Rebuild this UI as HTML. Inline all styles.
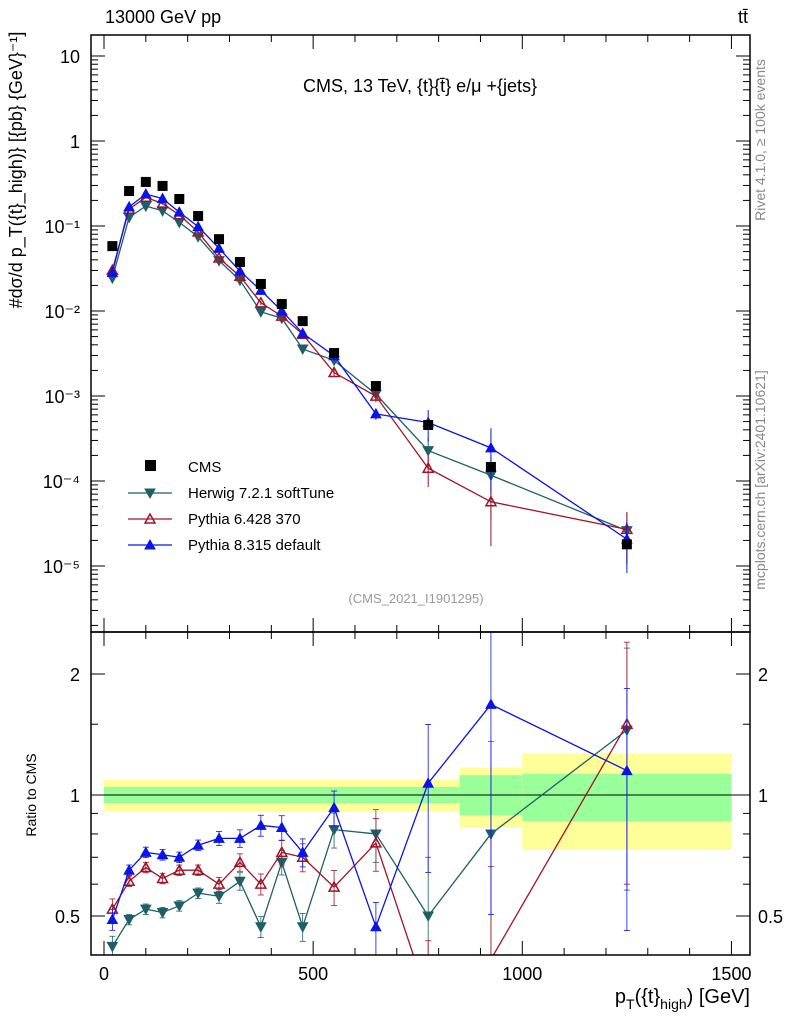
<!DOCTYPE html>
<html><head><meta charset="utf-8">
<style>
html,body{margin:0;padding:0;background:#fff;width:786px;height:1024px;overflow:hidden;}
svg{display:block;font-family:"Liberation Sans",sans-serif;}
</style></head>
<body>
<svg id="c" width="786" height="1024" viewBox="0 0 786 1024" xmlns="http://www.w3.org/2000/svg">
<text x="105" y="23" font-size="18">13000 GeV pp</text>
<text x="748" y="23" font-size="18" text-anchor="end">tt̄</text>
<text x="420" y="92" font-size="18" text-anchor="middle">CMS, 13 TeV, {t}{t̄} e/μ +{jets}</text>
<text x="416" y="603" font-size="13" fill="#999" text-anchor="middle">(CMS_2021_I1901295)</text>
<text transform="translate(765,140) rotate(-90)" font-size="14" fill="#888" text-anchor="middle">Rivet 4.1.0, ≥ 100k events</text>
<text transform="translate(765,480) rotate(-90)" font-size="14" fill="#888" text-anchor="middle">mcplots.cern.ch [arXiv:2401.10621]</text>
<text transform="translate(22,170) rotate(-90)" font-size="18" text-anchor="middle">#dσ/d p_T({t}_high)} [{pb} {GeV}⁻¹]</text>
<text transform="translate(36,795) rotate(-90)" font-size="14" text-anchor="middle">Ratio to CMS</text>
<text x="750" y="1003" font-size="20" text-anchor="end">p<tspan font-size="14" dy="6">T</tspan><tspan dy="-6">({t}</tspan><tspan font-size="14" dy="6">high</tspan><tspan dy="-6">) [GeV]</tspan></text>
<g id="g"></g>
</svg>
<script>
const xBins=[20,60,100,140,180,225,275,325,375,425,475,550,650,775,925,1250];
const cmsVals=[0.058,0.258,0.33,0.296,0.208,0.131,0.070,0.0377,0.0208,0.0121,0.0076,0.0032,0.00131,0.000456,0.000146,0.000018];
const herwigRatio=[0.42,0.49,0.52,0.51,0.53,0.57,0.56,0.61,0.47,0.68,0.47,0.82,0.80,0.50,0.80,1.45];
const pythia6Ratio=[0.52,0.61,0.66,0.62,0.65,0.65,0.60,0.68,0.60,0.72,0.70,0.59,0.76,0.31,0.39,1.50];
const pythia8Ratio=[0.49,0.65,0.72,0.71,0.70,0.75,0.78,0.78,0.84,0.83,0.72,0.93,0.47,1.07,1.68,1.15];
const mcRelErr=[0.06,0.03,0.03,0.03,0.03,0.03,0.04,0.05,0.06,0.07,0.08,0.1,0.15,0.4,0.7,0.6];
const bandEdges=[0,850,1000,1500];
const yellowLo=[0.91,0.83,0.73], yellowHi=[1.09,1.17,1.27];
const greenLo=[0.955,0.89,0.86], greenHi=[1.047,1.12,1.13];
const xTicks=[0,500,1000,1500];
const yTicks=[1e-5,1e-4,1e-3,1e-2,1e-1,1,10];
const yTickLabels=["10⁻⁵","10⁻⁴","10⁻³","10⁻²","10⁻¹","1","10"];
const rTicks=[0.5,1,2];

const L=91,R=750,T=35,M=632,B=955;
const clamp=(v,a,b)=>Math.max(a,Math.min(b,v));
const X=v=>104+v*0.4183;
const Y=v=>clamp(141-85*Math.log10(Math.max(v,1e-12)),T-10,M+10);
const YR=r=>clamp(795-121*Math.log2(Math.max(r,1e-6)),M-10,B+10);
const NS="http://www.w3.org/2000/svg";
const g=document.getElementById('g');
function el(t,a,p){const e=document.createElementNS(NS,t);for(const k in a)e.setAttribute(k,a[k]);(p||g).appendChild(e);return e;}
const clipM=el('clipPath',{id:'cm'});el('rect',{x:L,y:T,width:R-L,height:M-T},clipM);
const clipR=el('clipPath',{id:'cr'});el('rect',{x:L,y:M,width:R-L,height:B-M},clipR);
const gm=el('g',{'clip-path':'url(#cm)'});


const gr=el('g',{'clip-path':'url(#cr)'});



for(let i=0;i<3;i++){
 const y=el('rect',{x:X(bandEdges[i]),width:X(bandEdges[i+1])-X(bandEdges[i]),y:YR(yellowHi[i]),height:YR(yellowLo[i])-YR(yellowHi[i]),fill:'#ffff99'},gr);
 
 
 const gg=el('rect',{x:X(bandEdges[i]),width:X(bandEdges[i+1])-X(bandEdges[i]),y:YR(greenHi[i]),height:YR(greenLo[i])-YR(greenHi[i]),fill:'#99ff99'},gr);
 
 
}
el('line',{x1:L,x2:R,y1:YR(1),y2:YR(1),stroke:'#000'},gr);

const series=[
 {name:'herwig',ratio:herwigRatio,color:'#1f5f66',marker:'tdown',label:'Herwig 7.2.1 softTune'},
 {name:'pythia6',ratio:pythia6Ratio,color:'#a0142a',marker:'topen',label:'Pythia 6.428 370'},
 {name:'pythia8',ratio:pythia8Ratio,color:'#0a14e6',marker:'tup',label:'Pythia 8.315 default'}
];
function marker(type,x,y,c,p){
 let pts;
 if(type==='tdown')pts=`${x-5},${y-4} ${x+5},${y-4} ${x},${y+5}`;
 else pts=`${x-5},${y+4} ${x+5},${y+4} ${x},${y-5}`;
 return el('polygon',{points:pts,fill:type==='topen'?'none':c,stroke:c,'stroke-width':type==='topen'?1.5:1},p);
}
series.forEach(s=>{
 const mainVals=s.ratio.map((r,i)=>r*cmsVals[i]);
 let d='',dr='';
 xBins.forEach((x,i)=>{d+=(i?'L':'M')+X(x)+','+Y(mainVals[i]);});
 // ratio line: clip segments to panel analytically
 const rawYR=r=>795-121*Math.log2(r);
 for(let i=0;i<xBins.length-1;i++){
  let x1=X(xBins[i]),y1=rawYR(s.ratio[i]),x2=X(xBins[i+1]),y2=rawYR(s.ratio[i+1]);
  const lo=M,hi=B;
  if((y1>hi&&y2>hi)||(y1<lo&&y2<lo))continue;
  const cut=(xa,ya,xb,yb)=>{let yy=ya>hi?hi:(ya<lo?lo:ya);if(yy===ya)return[xa,ya];return[xa+(xb-xa)*(yy-ya)/(yb-ya),yy];};
  const p1=cut(x1,y1,x2,y2),p2=cut(x2,y2,x1,y1);
  dr+='M'+p1[0]+','+p1[1]+'L'+p2[0]+','+p2[1];
 }
 const l=el('path',{d:d,fill:'none',stroke:s.color,'stroke-width':1.3},gm);
 
 
 const lr=el('path',{d:dr,fill:'none',stroke:s.color,'stroke-width':1.3},gr);
 
 
 xBins.forEach((x,i)=>{
  const e=mcRelErr[i];
  el('line',{x1:X(x),x2:X(x),y1:Y(mainVals[i]*(1+e)),y2:Y(mainVals[i]*(1-e)),stroke:s.color},gm);
  el('line',{x1:X(x),x2:X(x),y1:YR(s.ratio[i]*(1+e)),y2:YR(s.ratio[i]*(1-e)),stroke:s.color,'stroke-width':0.8},gr);
  [1+e,1-e].forEach(f=>{const yy=YR(s.ratio[i]*f);if(yy<M||yy>B)return;el('line',{x1:X(x)-3,x2:X(x)+3,y1:yy,y2:yy,stroke:s.color,'stroke-width':0.8},gr);});
  const m=marker(s.marker,X(x),Y(mainVals[i]),s.color,gm);
  
  
  const yr=YR(s.ratio[i]);
  if(yr>M&&yr<B){
   const mr=marker(s.marker,X(x),yr,s.color,gr);
   
   
  }
 });
});
xBins.forEach((x,i)=>{
 const p=el('rect',{x:X(x)-5,y:Y(cmsVals[i])-5,width:10,height:10,fill:'#000'},gm);
 
 
});

el('rect',{x:L,y:T,width:R-L,height:M-T,fill:'none',stroke:'#000','stroke-width':1.5});
el('rect',{x:L,y:M,width:R-L,height:B-M,fill:'none',stroke:'#000','stroke-width':1.5});
for(let v=0;v<=1500;v+=100){
 const big=v%500===0,h=big?14:7;
 [[T,1],[M,-1],[M,1],[B,-1]].forEach(([y,dir])=>el('line',{x1:X(v),x2:X(v),y1:y,y2:y+dir*h,stroke:'#000'}));
}
xTicks.forEach(v=>{const t=el('text',{x:X(v),y:980,'font-size':18,'text-anchor':'middle'});t.textContent=v;
 
 });
for(let e=-6;e<=1;e++)for(let k=1;k<10;k++){
 const v=k*Math.pow(10,e),y=141-85*Math.log10(v);if(y<T||y>M)continue;
 const h=k===1?14:7;
 el('line',{x1:L,x2:L+h,y1:y,y2:y,stroke:'#000'});el('line',{x1:R,x2:R-h,y1:y,y2:y,stroke:'#000'});
}
yTicks.forEach((v,i)=>{const t=el('text',{x:80,y:Y(v)+7,'font-size':18,'text-anchor':'end'});t.textContent=yTickLabels[i];
 
 });
[0.4,0.5,0.6,0.7,0.8,0.9,1,1.5,2].forEach(r=>{const y=YR(r);const h=(r===0.5||r===1||r===2)?14:7;
 el('line',{x1:L,x2:L+h,y1:y,y2:y,stroke:'#000'});el('line',{x1:R,x2:R-h,y1:y,y2:y,stroke:'#000'});});
rTicks.forEach(r=>{[[80,'end'],[758,'start']].forEach(([x,a])=>{const t=el('text',{x:x,y:YR(r)+7,'font-size':18,'text-anchor':a});t.textContent=r;
 
 });});
const lg=el('g',{});


el('rect',{x:145,y:460,width:11,height:11,fill:'#000'},lg);
let t=el('text',{x:188,y:472,'font-size':15},lg);t.textContent='CMS';
series.forEach((s,i)=>{const y=493+i*26;
 el('line',{x1:128,x2:172,y1:y,y2:y,stroke:s.color,'stroke-width':1.3},lg);
 marker(s.marker,150,y,s.color,lg);
 const tt=el('text',{x:188,y:y+5,'font-size':15},lg);tt.textContent=s.label;
 
 
});
</script>
</body></html>
